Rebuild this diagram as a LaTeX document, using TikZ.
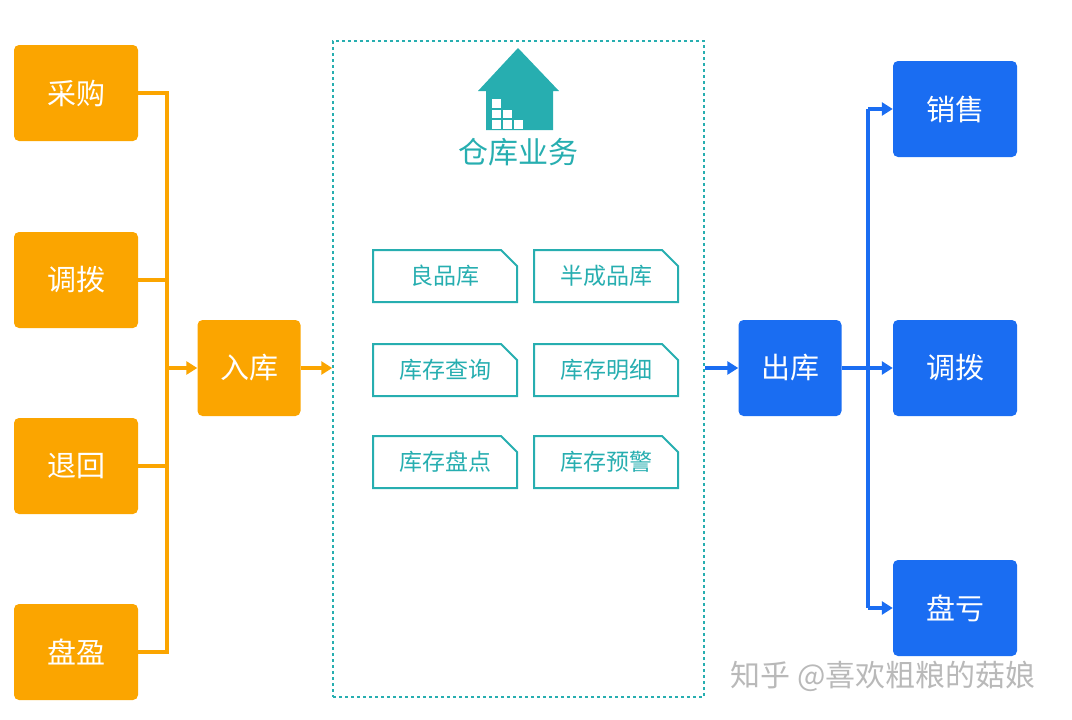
\documentclass[tikz,border=0pt]{standalone}
\usepackage{fontspec}
\setmainfont{Noto Sans CJK SC}
\usetikzlibrary{arrows.meta,positioning,calc,shapes.misc}
\definecolor{srcorange}{HTML}{FBA500}
\definecolor{outblue}{HTML}{1A6DF2}
\definecolor{depot}{HTML}{27AEB0}

\begin{document}
\begin{tikzpicture}[x=1pt,y=-1pt]
  \tikzset{src/.style={fill=srcorange,rounded corners=5pt,minimum width=124pt,minimum height=96pt,text=white,font=\fontsize{29}{32}\selectfont}}
  \tikzset{dst/.style={src,fill=outblue}}
  \tikzset{hub/.style={src,minimum width=103pt}}
  \tikzset{doc/.style={draw=depot,line width=2pt,text=depot,font=\fontsize{23}{26}\selectfont,
    minimum width=144pt,minimum height=52pt,chamfered rectangle,chamfered rectangle corners=north east,chamfered rectangle xsep=8pt,chamfered rectangle ysep=8pt}}
  \tikzset{feed/.style={srcorange,line width=4pt}}
  \tikzset{feedarrow/.style={feed,-{Triangle[length=11pt,width=13pt]}}}
  \tikzset{ship/.style={outblue,line width=4pt}}
  \tikzset{shiparrow/.style={ship,-{Triangle[length=11pt,width=13pt]}}}
  \useasboundingbox (0,0) rectangle (1072,720);
  % inbound sources
  \node[src] (buy) at (76,93) {采购};
  \node[src] (move) at (76,280) {调拨};
  \node[src] (back) at (76,466) {退回};
  \node[src] (gain) at (76,652) {盘盈};
  \node[hub] (in) at (249,368) {入库};
  \coordinate (jtop) at (167,93);
  \coordinate (jbot) at (167,652);
  \coordinate (jin) at (167,368);
  \draw[feed] (buy.east) -- (jtop) -- (jbot) -- (gain.east);
  \draw[feed] (move.east) -- (move.east -| jtop);
  \draw[feed] (back.east) -- (back.east -| jtop);
  \draw[feedarrow] (jin) -- (in.west);
  % warehouse
  \node[draw=depot,dashed,line width=1.5pt,minimum width=371pt,minimum height=656pt] (depot) at (518.5,369) {};
  \fill[depot] (478,91) -- (518,48) -- (559,91) -- (553,91) -- (553,130) -- (486,130) -- (486,91) -- cycle;
  \foreach \c/\r in {0/0,0/1,0/2,1/1,1/2,2/2}
    \fill[white] ({492+\c*11},{99+\r*10.5}) rectangle +(8.5,8.5);
  \node[text=depot,font=\fontsize{30}{33}\selectfont] (title) at (518,152) {仓库业务};
  \node[doc] (good) at (445,276) {良品库};
  \node[doc] (semi) at (606,276) {半成品库};
  \node[doc] (query) at (445,370) {库存查询};
  \node[doc] (detail) at (606,370) {库存明细};
  \node[doc] (count) at (445,462) {库存盘点};
  \node[doc] (alert) at (606,462) {库存预警};
  \draw[feedarrow] (in.east) -- (in.east -| depot.west);
  % outbound
  \node[hub,fill=outblue] (out) at (790,368) {出库};
  \node[dst] (sale) at (955,109) {销售};
  \node[dst] (trans) at (955,368) {调拨};
  \node[dst] (loss) at (955,608) {盘亏};
  \draw[shiparrow] (out.west -| depot.east) -- (out.west);
  \coordinate (ktop) at (868,109);
  \coordinate (kbot) at (868,608);
  \draw[ship] (out.east) -- (out.east -| ktop);
  \draw[ship] (ktop) -- (kbot);
  \draw[shiparrow] (ktop) -- (sale.west);
  \draw[shiparrow] (out.east -| ktop) -- (trans.west);
  \draw[shiparrow] (kbot) -- (loss.west);
  % watermark
  \node[text=gray!55,font=\fontsize{30}{33}\selectfont] (mark) at (883,676) {知乎 @喜欢粗粮的菇娘};
\end{tikzpicture}
\end{document}
